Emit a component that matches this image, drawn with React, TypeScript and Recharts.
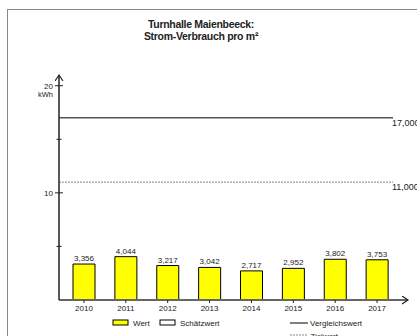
import React from 'react';
import { BarChart, Bar, XAxis, YAxis, ReferenceLine, LabelList, Legend } from 'recharts';

const years = ['2010', '2011', '2012', '2013', '2014', '2015', '2016', '2017'];
const wert = [3.356, 4.044, 3.217, 3.042, 2.717, 2.952, 3.802, 3.753];
const yTicks = [0, 5, 10, 15, 20];
const labeledTicks = [10, 20];
const vergleichswert = 17;
const zielwert = 11;

const data = years.map((year, i) => ({ year, wert: wert[i] }));

const fmt = (v: number) => v.toFixed(3).replace('.', ',');

const TEXT = '#222';
const FONT = '"Liberation Sans", Arial, sans-serif';

function YTick({ x, y, payload }: any) {
  const v = payload.value;
  if (v === 0) return null;
  const major = labeledTicks.includes(v);
  const half = major ? 4 : 2.5;
  return (
    <g>
      <line x1={x - half} x2={x + half} y1={y} y2={y} stroke={TEXT} strokeWidth={1} />
      {major && (
        <text x={x - 6} y={y} dy={3} textAnchor="end" fontSize={8} fill={TEXT} fontFamily={FONT}>
          {v}
        </text>
      )}
      {v === 20 && (
        <text x={x - 6} y={y} dy={11} textAnchor="end" fontSize={7.5} fill={TEXT} fontFamily={FONT}>
          kWh
        </text>
      )}
    </g>
  );
}

function refLabel(text: string) {
  return ({ viewBox }: any) => (
    <text x={viewBox.x + viewBox.width - 1} y={viewBox.y + 8} fontSize={9} fill={TEXT} fontFamily={FONT}>
      {text}
    </text>
  );
}

function LegendBox() {
  return (
    <svg width={417} height={24} style={{ display: 'block' }}>
      <g fontSize={8} fill={TEXT} fontFamily={FONT}>
        <rect x={113} y={4} width={15} height={5} fill="#ffff00" stroke="#000" />
        <text x={133} y={10}>Wert</text>
        <rect x={160} y={4} width={15} height={5} fill="#fff" stroke="#000" />
        <text x={180} y={10}>Schätzwert</text>
        <line x1={290} x2={308} y1={7} y2={7} stroke="#000" />
        <text x={310} y={10}>Vergleichswert</text>
        <line x1={290} x2={308} y1={19} y2={19} stroke="#888" strokeDasharray="2 1" />
        <text x={310} y={23}>Zielwert</text>
      </g>
    </svg>
  );
}

export default function App() {
  return (
    <div
      style={{
        position: 'absolute',
        left: 0,
        top: 0,
        width: 417,
        height: 336,
        overflow: 'hidden',
        background: '#fff',
        fontFamily: FONT,
      }}
    >
      <div
        style={{
          position: 'absolute',
          left: 7,
          top: 9,
          width: 430,
          height: 350,
          borderLeft: '1.5px solid #888',
          borderTop: '1.5px solid #888',
        }}
      />
      <div
        style={{
          position: 'absolute',
          left: 0,
          top: 18,
          width: 402,
          textAlign: 'center',
          fontWeight: 'bold',
          fontSize: 10.5,
          letterSpacing: -0.3,
          lineHeight: '12px',
          color: TEXT,
          zIndex: 2,
        }}
      >
        Turnhalle Maienbeeck:
        <br />
        Strom-Verbrauch pro m²
      </div>
      <div style={{ position: 'absolute', left: 0, top: 0 }}>
        <BarChart width={417} height={336} data={data} margin={{ top: 75, right: 24, left: 0, bottom: 16 }}>
          <defs>
            <marker
              id="arrowUp"
              markerWidth={8}
              markerHeight={10}
              refX={6}
              refY={4}
              orient="auto-start-reverse"
              markerUnits="userSpaceOnUse"
            >
              <path d="M0,0 L6,4 L0,8" fill="none" stroke={TEXT} strokeWidth={1.2} />
            </marker>
            <marker
              id="arrowRight"
              markerWidth={17}
              markerHeight={10}
              refX={0}
              refY={4}
              orient="auto"
              markerUnits="userSpaceOnUse"
            >
              <path d="M0,4 L15,4" fill="none" stroke="#666" strokeWidth={2} />
              <path d="M9,0 L15,4 L9,8" fill="none" stroke={TEXT} strokeWidth={1.2} />
            </marker>
          </defs>
          <XAxis
            dataKey="year"
            height={20}
            padding={{ left: 4, right: -5 }}
            axisLine={{ stroke: '#666', strokeWidth: 2, markerEnd: 'url(#arrowRight)' }}
            tickLine={{ stroke: TEXT }}
            tickSize={3}
            tickMargin={2}
            tick={{ fontSize: 8, fill: TEXT, fontFamily: FONT }}
          />
          <YAxis
            width={59}
            domain={[0, 21]}
            ticks={yTicks}
            interval={0}
            axisLine={{ stroke: TEXT, strokeWidth: 1.5, markerStart: 'url(#arrowUp)' }}
            tickLine={false}
            tickSize={0}
            tickMargin={0}
            tick={<YTick />}
          />
          <ReferenceLine y={vergleichswert} stroke="#555" strokeWidth={1.5} label={refLabel('17,000')} />
          <ReferenceLine y={zielwert} stroke="#888" strokeDasharray="2 1" label={refLabel('11,000')} />
          <Bar dataKey="wert" fill="#ffff00" stroke="#000" strokeWidth={1} barSize={22} isAnimationActive={false}>
            <LabelList
              dataKey="wert"
              position="top"
              offset={3}
              formatter={(v: any) => fmt(Number(v))}
              style={{ fontSize: 8, fill: TEXT, fontFamily: FONT }}
            />
          </Bar>
          <Legend
            verticalAlign="middle"
            align="center"
            wrapperStyle={{ left: 0, top: 316, width: 417, height: 24 }}
            content={() => <LegendBox />}
          />
        </BarChart>
      </div>
    </div>
  );
}
